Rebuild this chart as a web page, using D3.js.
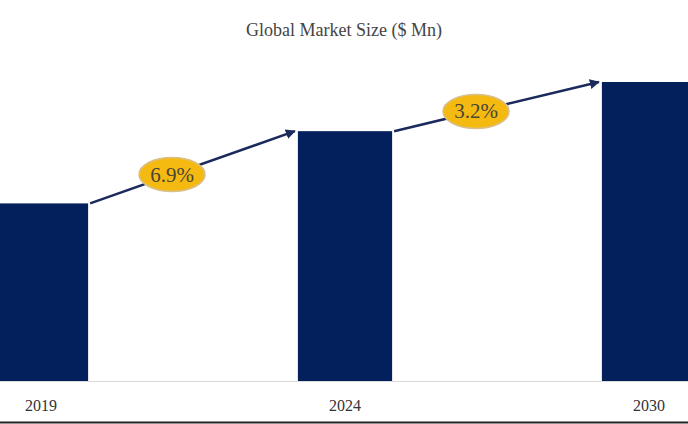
<!DOCTYPE html><html><head><meta charset="utf-8">
<script src="https://cdn.jsdelivr.net/npm/d3@7"></script>
<style>body{margin:0;background:#fff}</style></head><body><svg id="c" width="688" height="424"></svg>
<script>
const categories=["2019","2024","2030"];
const values=[177,249,298];
const cagrLabels=["6.9%","3.2%"];
const title="Global Market Size ($ Mn)";
const svg=d3.select("#c");
const base=381;
const x=d3.scaleBand().domain(categories).range([-111,801]).paddingInner(0.69).paddingOuter(0.345);
const y=d3.scaleLinear().domain([0,298]).range([base,82]);
svg.append("text").attr("x",344).attr("y",36).attr("text-anchor","middle").attr("font-family","Liberation Serif").attr("font-size",18).attr("fill","#444").text(title);
svg.selectAll("rect.b").data(values).join("rect").attr("class","b").attr("x",(d,i)=>x(categories[i])).attr("width",x.bandwidth()).attr("y",d=>y(d)).attr("height",d=>base-y(d)).attr("fill","#03205C");
svg.append("line").attr("x1",0).attr("x2",688).attr("y1",base+0.5).attr("y2",base+0.5).attr("stroke","#d9d9d9");
svg.append("line").attr("x1",0).attr("x2",688).attr("y1",422.5).attr("y2",422.5).attr("stroke","#222").attr("stroke-width",2);
svg.selectAll("text.t").data(categories).join("text").attr("class","t").attr("x",d=>x(d)+x.bandwidth()/2).attr("y",411).attr("text-anchor","middle").attr("font-family","Liberation Serif").attr("font-size",16).attr("fill","#333").text(d=>d);
const defs=svg.append("defs");
defs.append("marker").attr("id","ah").attr("viewBox","0 0 10 10").attr("refX",9).attr("refY",5).attr("markerWidth",4).attr("markerHeight",4).attr("orient","auto").append("path").attr("d","M0,0L10,5L0,10z").attr("fill","#1b2a5c");
for(let i=0;i<2;i++){
  const x1=x(categories[i])+x.bandwidth()+2, y1=y(values[i]);
  const x2=x(categories[i+1])-3, y2=y(values[i+1]);
  svg.append("line").attr("x1",x1).attr("y1",y1).attr("x2",x2).attr("y2",y2).attr("stroke","#1b2a5c").attr("stroke-width",2.5).attr("marker-end","url(#ah)");
  const t=0.4, cx=x1+(x2-x1)*t, cy=y1+(y2-y1)*t;
  svg.append("ellipse").attr("cx",cx).attr("cy",cy).attr("rx",33).attr("ry",17).attr("fill","#F5BA12").attr("stroke","#d9c08a").attr("stroke-width",1.5);
  svg.append("text").attr("x",cx).attr("y",cy+7).attr("text-anchor","middle").attr("font-family","Liberation Serif").attr("font-size",21).attr("fill","#4a4535").text(cagrLabels[i]);
}
</script></body></html>
